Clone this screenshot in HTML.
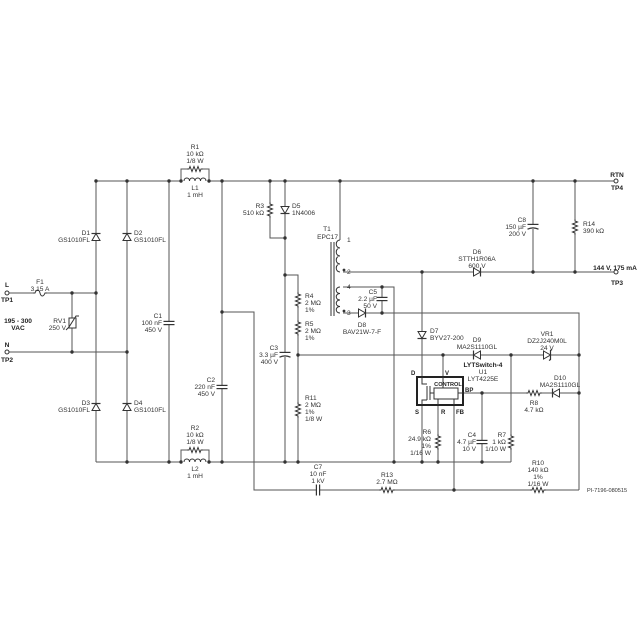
<!DOCTYPE html>
<html><head><meta charset="utf-8"><style>
html,body{margin:0;padding:0;background:#fff}
svg{display:block}
text{font-family:"Liberation Sans",sans-serif;font-size:6.6px;fill:#333}
.b{font-weight:bold;fill:#222}
.w{fill:none;stroke:#555;stroke-width:1}
.d{fill:#333}
</style></head><body>
<svg width="640" height="640" viewBox="0 0 640 640" xmlns="http://www.w3.org/2000/svg">
<defs>
<g id="rv"><rect x="-4" y="-8" width="8" height="16" fill="#fff"/><path d="M0,-8v2l2.5,1l-5,2l5,2l-5,2l5,2l-5,2l2.5,1v2" fill="none" stroke="#333" stroke-width="1"/></g>
<g id="rh"><rect x="-8" y="-4" width="16" height="8" fill="#fff"/><path d="M-8,0h2l1,-2.5l2,5l2,-5l2,5l2,-5l2,5l1,-2.5h2" fill="none" stroke="#333" stroke-width="1"/></g>
<g id="dd"><rect x="-5" y="-4" width="10" height="8" fill="#fff"/><polygon points="-4,-3.5 4,-3.5 0,3.5" fill="#fff" stroke="#333" stroke-width="1"/><line x1="-4.5" y1="3.5" x2="4.5" y2="3.5" stroke="#333" stroke-width="1.2"/></g>
<g id="zd"><rect x="-5" y="-4" width="10" height="8" fill="#fff"/><polygon points="-4,-3.5 4,-3.5 0,3.5" fill="#fff" stroke="#333" stroke-width="1"/><path d="M-5.5,2l1,1.5h9l1,1.5" fill="none" stroke="#333" stroke-width="1.2"/></g>
<g id="cv"><rect x="-6" y="-2" width="12" height="4" fill="#fff"/><line x1="-5.5" y1="-1.6" x2="5.5" y2="-1.6" stroke="#333" stroke-width="1.2"/><line x1="-5.5" y1="1.6" x2="5.5" y2="1.6" stroke="#333" stroke-width="1.2"/></g>
<g id="ce"><rect x="-6" y="-2" width="12" height="5" fill="#fff"/><line x1="-5.5" y1="-1.6" x2="5.5" y2="-1.6" stroke="#333" stroke-width="1.2"/><path d="M-5.5,3.2Q0,0.5 5.5,3.2" fill="none" stroke="#333" stroke-width="1.2"/></g>
<g id="lh"><rect x="-11" y="-4" width="22" height="5" fill="#fff"/><path d="M-11,0c0,-4 5.5,-4 5.5,0c0,-4 5.5,-4 5.5,0c0,-4 5.5,-4 5.5,0c0,-4 5.5,-4 5.5,0" fill="none" stroke="#333" stroke-width="1"/></g>
</defs>

<g class="w">
<path d="M96,181H181M209,181H614"/>
<path d="M96,181V462M127,181V462M169,181V462M222,181V462"/>
<path d="M96,462H181M209,462H511"/>
<path d="M181,181V169H209V181M181,462V450H209V462"/>
<path d="M9,293H96M72,293V352M9,352H127"/>
<path d="M222,312H254V490H579"/>
<path d="M270,181V238H285M285,181V462M285,275H298V462M298,355H579"/>
<path d="M340,181V240M340,272H614M340,287H394V462M340,313H579V490M382,287V313"/>
<path d="M533,181V272M575,181V272"/>
<path d="M422,272V462M443,355V377M463,393H579M482,393V462M511,355V462M438,405V462M454,405V490"/>
</g>

<use href="#lh" x="195" y="181"/>
<use href="#lh" x="195" y="462"/>
<use href="#rh" x="195" y="169"/>
<use href="#rh" x="195" y="450"/>
<use href="#rv" x="270" y="210"/>
<use href="#rv" x="298" y="300"/>
<use href="#rv" x="298" y="328"/>
<use href="#rv" x="298" y="410"/>
<use href="#rv" x="575" y="227"/>
<use href="#rv" x="438" y="442"/>
<use href="#rv" x="511" y="442"/>
<use href="#rh" x="534" y="393"/>
<use href="#rh" x="387" y="490"/>
<use href="#rh" x="538" y="490"/>
<use href="#dd" transform="translate(96,237) rotate(180)"/>
<use href="#dd" transform="translate(127,237) rotate(180)"/>
<use href="#dd" transform="translate(96,407) rotate(180)"/>
<use href="#dd" transform="translate(127,407) rotate(180)"/>
<use href="#dd" transform="translate(285,210)"/>
<use href="#dd" transform="translate(422,335)"/>
<use href="#dd" transform="translate(477,272) rotate(-90)"/>
<use href="#dd" transform="translate(362,313) rotate(-90)"/>
<use href="#dd" transform="translate(477,355) rotate(90)"/>
<use href="#dd" transform="translate(556,393) rotate(90)"/>
<use href="#zd" transform="translate(547,355) rotate(-90)"/>
<use href="#cv" x="169" y="323"/>
<use href="#cv" x="222" y="387"/>
<use href="#ce" x="285" y="354"/>
<use href="#ce" x="533" y="226"/>
<use href="#cv" x="382" y="299"/>
<use href="#cv" x="482" y="442"/>
<use href="#cv" transform="translate(318,490) rotate(90)"/>

<rect x="33" y="289" width="14" height="8" fill="#fff"/>
<path d="M33,293h2c1.5,-4 4,-4 5,0c1,4 3.5,4 5,0h2" fill="none" stroke="#333"/>
<rect x="69" y="318" width="7" height="10" fill="#fff" stroke="#333"/>
<path d="M66,330l3,-3l7,-11l3,0" fill="none" stroke="#333"/>

<rect x="334" y="240" width="9" height="75" fill="#fff"/>
<path d="M340,240c-5,0 -5,8 0,8c-5,0 -5,8 0,8c-5,0 -5,8 0,8c-5,0 -5,8 0,8" class="w" style="stroke:#333"/>
<path d="M340,287c-5,0 -5,6.5 0,6.5c-5,0 -5,6.5 0,6.5c-5,0 -5,6.5 0,6.5c-5,0 -5,6.5 0,6.5" class="w" style="stroke:#333"/>
<path d="M331,242V316M334,242V316" stroke="#333" stroke-width="1"/>
<circle cx="344" cy="270" r="1.4" class="d"/><circle cx="344" cy="311" r="1.4" class="d"/>

<rect x="417" y="377" width="46" height="28" fill="#fff" stroke="#222" stroke-width="2"/>
<rect x="434" y="388" width="24" height="11" fill="#fff" stroke="#333" stroke-width="1"/>
<path d="M422,377V384H427M427,386V400M430,386V400M430,393H434M422,405V400H427" fill="none" stroke="#333"/>
<path d="M438,399V405M454,399V405M443,377V388M458,393H463" fill="none" stroke="#333"/>

<g class="d">
<circle cx="96" cy="181" r="1.7"/><circle cx="127" cy="181" r="1.7"/><circle cx="169" cy="181" r="1.7"/><circle cx="181" cy="181" r="1.7"/><circle cx="209" cy="181" r="1.7"/><circle cx="222" cy="181" r="1.7"/><circle cx="270" cy="181" r="1.7"/><circle cx="285" cy="181" r="1.7"/><circle cx="340" cy="181" r="1.7"/><circle cx="533" cy="181" r="1.7"/><circle cx="575" cy="181" r="1.7"/>
<circle cx="96" cy="293" r="1.7"/><circle cx="72" cy="293" r="1.7"/><circle cx="72" cy="352" r="1.7"/><circle cx="127" cy="352" r="1.7"/>
<circle cx="127" cy="462" r="1.7"/><circle cx="169" cy="462" r="1.7"/><circle cx="181" cy="462" r="1.7"/><circle cx="209" cy="462" r="1.7"/><circle cx="222" cy="462" r="1.7"/><circle cx="285" cy="462" r="1.7"/><circle cx="298" cy="462" r="1.7"/><circle cx="394" cy="462" r="1.7"/><circle cx="422" cy="462" r="1.7"/><circle cx="438" cy="462" r="1.7"/><circle cx="482" cy="462" r="1.7"/>
<circle cx="222" cy="312" r="1.7"/><circle cx="285" cy="238" r="1.7"/><circle cx="285" cy="275" r="1.7"/><circle cx="298" cy="355" r="1.7"/><circle cx="422" cy="272" r="1.7"/><circle cx="533" cy="272" r="1.7"/><circle cx="575" cy="272" r="1.7"/><circle cx="382" cy="287" r="1.7"/><circle cx="382" cy="313" r="1.7"/><circle cx="443" cy="355" r="1.7"/><circle cx="511" cy="355" r="1.7"/><circle cx="579" cy="355" r="1.7"/><circle cx="482" cy="393" r="1.7"/><circle cx="579" cy="393" r="1.7"/><circle cx="454" cy="490" r="1.7"/>
</g>
<g fill="#fff" stroke="#333">
<circle cx="7" cy="293" r="2"/><circle cx="7" cy="352" r="2"/><circle cx="616" cy="181" r="2"/><circle cx="616" cy="272" r="2"/>
</g>

<g text-anchor="middle">
<text x="195" y="149">R1</text><text x="195" y="156">10 kΩ</text><text x="195" y="163">1/8 W</text>
<text x="195" y="190">L1</text><text x="195" y="197">1 mH</text>
<text x="195" y="430">R2</text><text x="195" y="437">10 kΩ</text><text x="195" y="444">1/8 W</text>
<text x="195" y="471">L2</text><text x="195" y="478">1 mH</text>
<text x="40" y="284">F1</text><text x="40" y="291">3.15 A</text>
<text x="7" y="287" class="b">L</text><text x="7" y="302" class="b">TP1</text>
<text x="7" y="347" class="b">N</text><text x="7" y="362" class="b">TP2</text>
<text x="18" y="323" class="b">195 - 300</text><text x="18" y="330" class="b">VAC</text>
<text x="617" y="177" class="b">RTN</text><text x="617" y="190" class="b">TP4</text>
<text x="615" y="270" class="b">144 V, 175 mA</text><text x="617" y="285" class="b">TP3</text>
<text x="362" y="327">D8</text><text x="362" y="334">BAV21W-7-F</text>
<text x="477" y="254">D6</text><text x="477" y="261">STTH1R06A</text><text x="477" y="268">600 V</text>
<text x="477" y="342">D9</text><text x="477" y="349">MA2S1110GL</text>
<text x="547" y="336">VR1</text><text x="547" y="343">DZ2J240M0L</text><text x="547" y="350">24 V</text>
<text x="483" y="367" class="b">LYTSwitch-4</text><text x="483" y="374">U1</text><text x="483" y="381">LYT4225E</text>
<text x="560" y="380">D10</text><text x="560" y="387">MA2S1110GL</text>
<text x="534" y="405">R8</text><text x="534" y="412">4.7 kΩ</text>
<text x="318" y="469">C7</text><text x="318" y="476">10 nF</text><text x="318" y="483">1 kV</text>
<text x="387" y="477">R13</text><text x="387" y="484">2.7 MΩ</text>
<text x="538" y="465">R10</text><text x="538" y="472">140 kΩ</text><text x="538" y="479">1%</text><text x="538" y="486">1/16 W</text>
<text x="327" y="231">T1</text>
<text x="448" y="386" class="b" style="font-size:5.6px">CONTROL</text>
</g>
<g text-anchor="end">
<text x="90" y="235">D1</text><text x="90" y="242">GS1010FL</text>
<text x="90" y="405">D3</text><text x="90" y="412">GS1010FL</text>
<text x="66" y="323">RV1</text><text x="66" y="330">250 V</text>
<text x="162" y="318">C1</text><text x="162" y="325">100 nF</text><text x="162" y="332">450 V</text>
<text x="215" y="382">C2</text><text x="215" y="389">220 nF</text><text x="215" y="396">450 V</text>
<text x="264" y="208">R3</text><text x="264" y="215">510 kΩ</text>
<text x="278" y="350">C3</text><text x="278" y="357">3.3 µF</text><text x="278" y="364">400 V</text>
<text x="338" y="239">EPC17</text>
<text x="377" y="294">C5</text><text x="377" y="301">2.2 µF</text><text x="377" y="308">50 V</text>
<text x="526" y="222">C8</text><text x="526" y="229">150 µF</text><text x="526" y="236">200 V</text>
<text x="431" y="434">R6</text><text x="431" y="441">24.9 kΩ</text><text x="431" y="448">1%</text><text x="431" y="455">1/16 W</text>
<text x="476" y="437">C4</text><text x="476" y="444">4.7 µF</text><text x="476" y="451">10 V</text>
<text x="506" y="437">R7</text><text x="506" y="444">1 kΩ</text><text x="506" y="451">1/10 W</text>
</g>
<g>
<text x="134" y="235">D2</text><text x="134" y="242">GS1010FL</text>
<text x="134" y="405">D4</text><text x="134" y="412">GS1010FL</text>
<text x="292" y="208">D5</text><text x="292" y="215">1N4006</text>
<text x="305" y="298">R4</text><text x="305" y="305">2 MΩ</text><text x="305" y="312">1%</text>
<text x="305" y="326">R5</text><text x="305" y="333">2 MΩ</text><text x="305" y="340">1%</text>
<text x="305" y="400">R11</text><text x="305" y="407">2 MΩ</text><text x="305" y="414">1%</text><text x="305" y="421">1/8 W</text>
<text x="583" y="226">R14</text><text x="583" y="233">390 kΩ</text>
<text x="430" y="333">D7</text><text x="430" y="340">BYV27-200</text>
<text x="347" y="242">1</text><text x="347" y="274">2</text><text x="347" y="289">4</text><text x="347" y="315">3</text>
<text x="411" y="375" class="b" style="font-size:6px">D</text>
<text x="445" y="375" class="b" style="font-size:6px">V</text>
<text x="465" y="392" class="b" style="font-size:6px">BP</text>
<text x="415" y="414" class="b" style="font-size:6px">S</text>
<text x="441" y="414" class="b" style="font-size:6px">R</text>
<text x="456" y="414" class="b" style="font-size:6px">FB</text>
<text x="587" y="492" style="font-size:5.6px">PI-7196-080515</text>
</g>
</svg>
</body></html>
